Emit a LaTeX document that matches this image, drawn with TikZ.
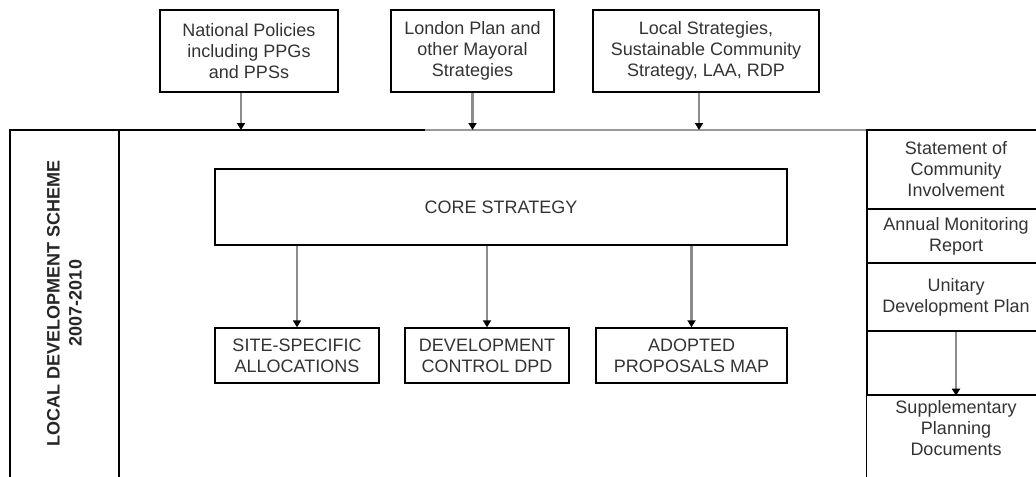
\documentclass[tikz,border=0pt]{standalone}
\usepackage{fontspec}
\setmainfont{Liberation Sans}
\usetikzlibrary{positioning, arrows.meta}

\tikzset{
  box/.style={draw, line width=0.7pt, align=center, text=black!80,
    font=\fontsize{9}{10.5}\selectfont, inner sep=0pt},
  txt/.style={align=center, text=black!80, font=\fontsize{9}{10.5}\selectfont},
  frame/.style={line width=0.7pt},
  link/.style={draw=black!45, line width=1.2pt,
    -{Triangle[black, length=3.5pt, width=4pt]}},
}

\begin{document}
\begin{tikzpicture}[x=0.5pt, y=-0.5pt]
    \clip (0,0) rectangle (1036,476);

    % policy boxes along the top
    \node[box, minimum width=89pt, minimum height=41pt] (nat) at (249,51)
        {National Policies\\including PPGs\\and PPSs};
    \node[box, minimum width=81.5pt, minimum height=41pt] (lon) at (472.5,51)
        {London Plan and\\other Mayoral\\Strategies};
    \node[box, minimum width=113pt, minimum height=41pt] (loc) at (706,51)
        {Local Strategies,\\Sustainable Community\\Strategy, LAA, RDP};

    % outer frame of the scheme
    \coordinate (topL) at (10,130);
    \coordinate (topM) at (425,130);
    \coordinate (topR) at (867,130);
    \draw[frame] (10,486) -- (topL) -- (topM);
    \draw[frame, black!40] (topM) -- (topR);
    \draw[frame] (119,130) -- (119,486);

    % arrows into the frame
    \draw[link] ([xshift=-4pt]nat.south) -- ([xshift=-4pt]nat.south |- topL);
    \draw[link] (lon.south) -- (lon.south |- topL);
    \draw[link] ([xshift=-3.5pt]loc.south) -- ([xshift=-3.5pt]loc.south |- topL);

    % title down the left side
    \node[rotate=90, align=center, text=black!85,
          font=\bfseries\fontsize{9}{11}\selectfont] (lds) at (64.5,303)
        {LOCAL DEVELOPMENT SCHEME\\2007-2010};

    % core strategy and the documents under it
    \node[box, minimum width=286pt, minimum height=38pt] (core) at (501,207)
        {CORE STRATEGY};
    \node[box, minimum width=82pt, minimum height=27.5pt] (site) at (297,355.5)
        {SITE-SPECIFIC\\ALLOCATIONS};
    \node[box, minimum width=82pt, minimum height=27.5pt] (dev) at (487,355.5)
        {DEVELOPMENT\\CONTROL DPD};
    \node[box, minimum width=95.5pt, minimum height=27.5pt] (apm) at (691.5,355.5)
        {ADOPTED\\PROPOSALS MAP};

    \draw[link] (core.south -| site.north) -- (site.north);
    \draw[link] (core.south -| dev.north) -- (dev.north);
    \draw[link] (core.south -| apm.north) -- (apm.north);

    % column on the right
    \node[box, minimum width=89pt, minimum height=39.5pt] (sci) at (956,169.5)
        {Statement of\\Community\\Involvement};
    \node[box, minimum width=89pt, minimum height=27pt] (amr) at (956,236)
        {Annual Monitoring\\Report};
    \node[box, minimum width=89pt, minimum height=34pt] (udp) at (956,297)
        {Unitary\\Development Plan};
    \node[box, minimum width=89pt, minimum height=32pt] (gap) at (956,363) {};
    \node[txt] (spd) at (956,428)
        {Supplementary\\Planning\\Documents};
    \draw[frame] (gap.south west) -- ++(0,100);

    \draw[link] (udp.south) -- (gap.south);

\end{tikzpicture}
\end{document}
